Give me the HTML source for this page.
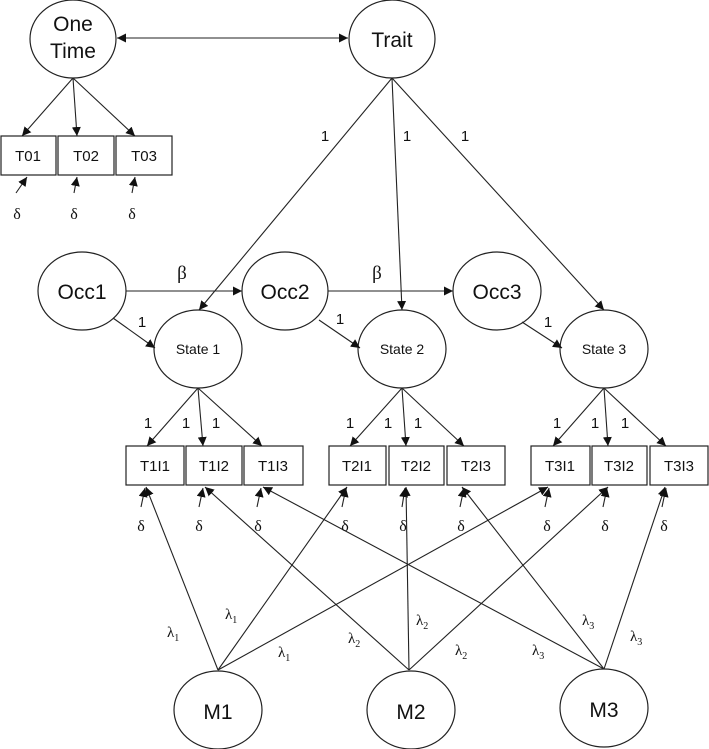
<!DOCTYPE html>
<html><head><meta charset="utf-8"><style>
html,body{margin:0;padding:0;background:#fff;}
svg{display:block;}
text{font-family:"Liberation Sans",sans-serif;fill:#111;}
.g{font-family:"Liberation Serif",serif;}
</style></head><body>
<svg width="709" height="749" viewBox="0 0 709 749" xmlns="http://www.w3.org/2000/svg">
<defs>
<marker id="a" viewBox="0 0 10 10" refX="10" refY="5" markerWidth="9" markerHeight="9" markerUnits="userSpaceOnUse" orient="auto"><path d="M0,0 L10,5 L0,10 z" fill="#111"/></marker>
<marker id="s" viewBox="0 0 10 10" refX="0" refY="5" markerWidth="9" markerHeight="9" markerUnits="userSpaceOnUse" orient="auto"><path d="M10,0 L0,5 L10,10 z" fill="#111"/></marker>
</defs>
<g fill="none" stroke="#222" stroke-width="1.2">
<ellipse cx="73" cy="39" rx="43" ry="39"/>
<ellipse cx="392" cy="39" rx="43" ry="39"/>
<ellipse cx="82" cy="291" rx="44" ry="39"/>
<ellipse cx="285" cy="291" rx="43" ry="39"/>
<ellipse cx="497" cy="291" rx="44" ry="39"/>
<ellipse cx="198" cy="349" rx="44" ry="39"/>
<ellipse cx="402" cy="349" rx="44" ry="39"/>
<ellipse cx="604" cy="349" rx="44" ry="39"/>
<ellipse cx="218" cy="710" rx="44" ry="39"/>
<ellipse cx="411" cy="710" rx="44" ry="39"/>
<ellipse cx="604" cy="708" rx="44" ry="39"/>
<rect x="1" y="136" width="55" height="39"/><rect x="58" y="136" width="56" height="39"/><rect x="116" y="136" width="56" height="39"/>
<rect x="126" y="446" width="58" height="39"/><rect x="186" y="446" width="56" height="39"/><rect x="244" y="446" width="59" height="39"/>
<rect x="329" y="446" width="57" height="39"/><rect x="389" y="446" width="55" height="39"/><rect x="447" y="446" width="58" height="39"/>
<rect x="531" y="446" width="59" height="39"/><rect x="592" y="446" width="55" height="39"/><rect x="650" y="446" width="58" height="39"/>
</g>
<g stroke="#222" stroke-width="1.1" fill="none" marker-end="url(#a)">
<line x1="117" y1="38" x2="348" y2="38" marker-start="url(#s)"/>
<line x1="73" y1="78" x2="22" y2="136"/><line x1="73" y1="78" x2="77" y2="136"/><line x1="73" y1="78" x2="135" y2="136"/>
<line x1="16" y1="193" x2="27" y2="177"/><line x1="74" y1="193" x2="77" y2="177"/><line x1="132" y1="193" x2="135" y2="177"/>
<line x1="392" y1="78" x2="199" y2="310"/><line x1="392" y1="78" x2="402" y2="310"/><line x1="392" y1="78" x2="604" y2="310"/>
<line x1="126" y1="291" x2="242" y2="291"/><line x1="328" y1="291" x2="453" y2="291"/>
<line x1="113" y1="318" x2="155" y2="348"/><line x1="319" y1="320" x2="360" y2="348"/><line x1="522" y1="322" x2="562" y2="348"/>
<line x1="198" y1="388" x2="147" y2="446"/><line x1="198" y1="388" x2="203" y2="446"/><line x1="198" y1="388" x2="262" y2="446"/>
<line x1="402" y1="388" x2="350" y2="446"/><line x1="402" y1="388" x2="406" y2="446"/><line x1="402" y1="388" x2="464" y2="446"/>
<line x1="604" y1="388" x2="553" y2="446"/><line x1="604" y1="388" x2="608" y2="446"/><line x1="604" y1="388" x2="666" y2="446"/>
<line x1="141" y1="507" x2="145" y2="488"/><line x1="199" y1="507" x2="203" y2="488"/><line x1="257" y1="507" x2="261" y2="488"/>
<line x1="342" y1="507" x2="346" y2="488"/><line x1="402" y1="507" x2="405" y2="488"/><line x1="460" y1="507" x2="464" y2="488"/>
<line x1="545" y1="507" x2="549" y2="488"/><line x1="603" y1="507" x2="607" y2="488"/><line x1="662" y1="507" x2="666" y2="488"/>
<line x1="218" y1="670" x2="146" y2="487"/><line x1="218" y1="670" x2="347" y2="487"/><line x1="218" y1="670" x2="548" y2="487"/>
<line x1="409" y1="670" x2="205" y2="487"/><line x1="409" y1="670" x2="406" y2="487"/><line x1="409" y1="670" x2="608" y2="487"/>
<line x1="604" y1="669" x2="263" y2="487"/><line x1="604" y1="669" x2="462" y2="487"/><line x1="604" y1="669" x2="665" y2="487"/>
</g>
<g font-size="21" text-anchor="middle">
<text x="73" y="31">One</text><text x="73" y="58">Time</text>
<text x="392" y="47">Trait</text>
<text x="82" y="299">Occ1</text><text x="285" y="299">Occ2</text><text x="497" y="299">Occ3</text>
<text x="218" y="719">M1</text><text x="411" y="719">M2</text><text x="604" y="717">M3</text>
</g>
<g font-size="14" text-anchor="middle">
<text x="198" y="354">State 1</text><text x="402" y="354">State 2</text><text x="604" y="354">State 3</text>
</g>
<g font-size="15" text-anchor="middle">
<text x="28" y="161">T01</text><text x="86" y="161">T02</text><text x="144" y="161">T03</text>
<text x="155" y="471">T1I1</text><text x="214" y="471">T1I2</text><text x="273" y="471">T1I3</text>
<text x="357" y="471">T2I1</text><text x="416" y="471">T2I2</text><text x="476" y="471">T2I3</text>
<text x="560" y="471">T3I1</text><text x="619" y="471">T3I2</text><text x="679" y="471">T3I3</text>
</g>
<g font-size="15" text-anchor="middle">
<text x="325" y="141">1</text><text x="407" y="141">1</text><text x="465" y="141">1</text>
<text x="142" y="327">1</text><text x="340" y="324">1</text><text x="548" y="327">1</text>
<text x="148" y="428">1</text><text x="186" y="428">1</text><text x="216" y="428">1</text>
<text x="350" y="428">1</text><text x="388" y="428">1</text><text x="418" y="428">1</text>
<text x="557" y="428">1</text><text x="595" y="428">1</text><text x="625" y="428">1</text>
</g>
<g class="g" font-size="19" text-anchor="middle">
<text x="182" y="279" class="g">β</text><text x="377" y="279" class="g">β</text>
</g>
<g class="g" font-size="16" text-anchor="middle">
<text class="g" x="17" y="219">δ</text><text class="g" x="74" y="219">δ</text><text class="g" x="132" y="219">δ</text>
<text class="g" x="141" y="531">δ</text><text class="g" x="199" y="531">δ</text><text class="g" x="258" y="531">δ</text>
<text class="g" x="345" y="531">δ</text><text class="g" x="403" y="531">δ</text><text class="g" x="461" y="531">δ</text>
<text class="g" x="547" y="531">δ</text><text class="g" x="605" y="531">δ</text><text class="g" x="664" y="531">δ</text>
</g>
<g class="g" font-size="15">
<text class="g" x="167" y="637">λ<tspan font-size="10" dy="4">1</tspan></text>
<text class="g" x="225" y="619">λ<tspan font-size="10" dy="4">1</tspan></text>
<text class="g" x="278" y="657">λ<tspan font-size="10" dy="4">1</tspan></text>
<text class="g" x="348" y="643">λ<tspan font-size="10" dy="4">2</tspan></text>
<text class="g" x="416" y="625">λ<tspan font-size="10" dy="4">2</tspan></text>
<text class="g" x="455" y="655">λ<tspan font-size="10" dy="4">2</tspan></text>
<text class="g" x="532" y="655">λ<tspan font-size="10" dy="4">3</tspan></text>
<text class="g" x="582" y="625">λ<tspan font-size="10" dy="4">3</tspan></text>
<text class="g" x="630" y="641">λ<tspan font-size="10" dy="4">3</tspan></text>
</g>
</svg>
</body></html>
